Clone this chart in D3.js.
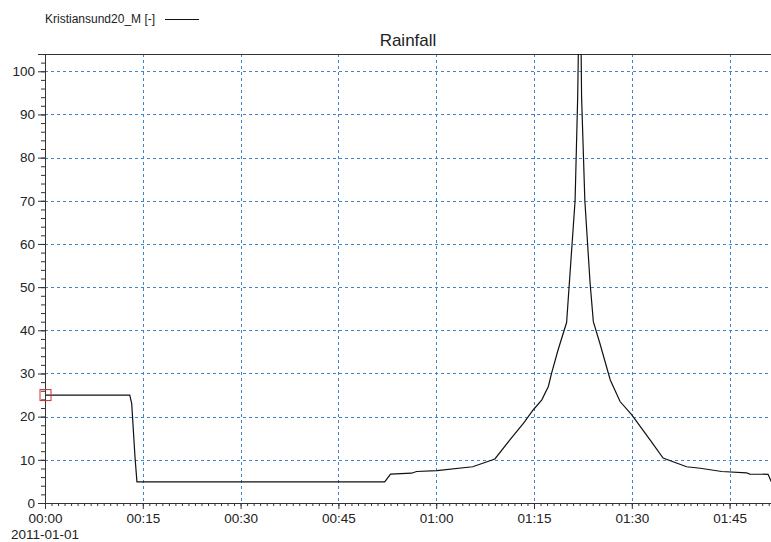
<!DOCTYPE html>
<html>
<head>
<meta charset="utf-8">
<script src="https://cdn.jsdelivr.net/npm/d3@7"></script>
<style>
  html, body { margin: 0; padding: 0; background: #fff; }
  svg { display: block; font-family: "Liberation Sans", Arial, sans-serif; }
</style>
</head>
<body>
<svg id="chart" width="771" height="542"></svg>
<script>
// ---- data (minutes since 2011-01-01 00:00, rainfall value) ----
const seriesName = "Kristiansund20_M [-]";
const chartTitle = "Rainfall";
const startDate = "2011-01-01";
const minutes = [0, 13.0, 13.3, 13.8, 14.1, 52.1, 53.0, 56.2, 57.0, 60.1, 65.6, 69.0, 71.3, 73.4, 74.9, 76.2, 77.2, 77.7, 78.7, 80.0, 81.3, 81.7, 82.05, 82.3, 82.8, 83.6, 84.1, 85.1, 86.7, 87.4, 88.2, 90.0, 92.8, 94.8, 98.4, 100.5, 103.8, 107.6, 108.1, 110.9, 111.4];
const values  = [25, 25, 23, 10.7, 4.9, 4.9, 6.7, 6.9, 7.3, 7.5, 8.4, 10.2, 14.6, 18.5, 21.6, 23.9, 27.0, 30.1, 35.5, 41.8, 70, 94, 130, 94, 70, 51, 42, 37, 28.5, 26.2, 23.5, 20.4, 14.6, 10.4, 8.4, 8.05, 7.3, 7.0, 6.7, 6.65, 4.9];
const yTickValues = [0, 10, 20, 30, 40, 50, 60, 70, 80, 90, 100];
const xEndMinutes = 111.35;
const yMax = 104;

// ---- layout ----
const svg = d3.select("#chart");
const pLeft = 45, pTop = 54, pRight = 771, pBottom = 503;
const t0 = new Date(Date.UTC(2011, 0, 1, 0, 0, 0));
const toDate = m => new Date(t0.getTime() + m * 60000);

const x = d3.scaleUtc().domain([t0, toDate(xEndMinutes)]).range([pLeft, pRight]);
const y = d3.scaleLinear().domain([0, yMax]).range([pBottom, pTop]);

const gridColor = "#3d86cc";
const axisColor = "#333";
const textColor = "#222";

// clip
svg.append("defs").append("clipPath").attr("id", "clip")
  .append("rect").attr("x", pLeft).attr("y", pTop).attr("width", pRight - pLeft).attr("height", pBottom - pTop);

// grid
const majorX = x.ticks(d3.utcMinute.every(15));
svg.append("g").selectAll("line").data(majorX.filter(d => d.getTime() !== t0.getTime()))
  .join("line")
  .attr("x1", d => Math.round(x(d)) + 0.5).attr("x2", d => Math.round(x(d)) + 0.5)
  .attr("y1", pTop).attr("y2", pBottom)
  .attr("stroke", gridColor).attr("stroke-width", 1).attr("stroke-dasharray", "3,3");
svg.append("g").selectAll("line").data(yTickValues.filter(v => v !== 0))
  .join("line")
  .attr("x1", pLeft).attr("x2", pRight)
  .attr("y1", d => Math.round(y(d)) + 0.5).attr("y2", d => Math.round(y(d)) + 0.5)
  .attr("stroke", gridColor).attr("stroke-width", 1).attr("stroke-dasharray", "3,3");

// top border
svg.append("line").attr("x1", pLeft).attr("x2", pRight).attr("y1", pTop + 0.5).attr("y2", pTop + 0.5)
  .attr("stroke", axisColor).attr("stroke-width", 1);

// line
const data = minutes.map((m, i) => ({ t: toDate(m), v: values[i] }));
svg.append("path").datum(data)
  .attr("clip-path", "url(#clip)")
  .attr("fill", "none").attr("stroke", "#111").attr("stroke-width", 1.2)
  .attr("d", d3.line().x(d => x(d.t)).y(d => y(d.v)));

// x axis
const xMinor = d3.axisBottom(x).ticks(d3.utcMinute.every(1)).tickSize(3).tickFormat("");
const gxm = svg.append("g").attr("transform", `translate(0,${pBottom})`).call(xMinor);
const xMajor = d3.axisBottom(x).ticks(d3.utcMinute.every(15)).tickSize(6).tickPadding(4)
  .tickFormat(d3.utcFormat("%H:%M"));
const gx = svg.append("g").attr("transform", `translate(0,${pBottom})`).call(xMajor);
[gxm, gx].forEach(g => {
  g.select(".domain").attr("stroke", axisColor);
  g.selectAll(".tick line").attr("stroke", axisColor);
});
gx.selectAll(".tick text").attr("fill", textColor).attr("font-size", 13.5)
  .attr("font-family", "Liberation Sans, Arial, sans-serif");
svg.append("text").attr("x", x(t0)).attr("y", 539).attr("text-anchor", "middle")
  .attr("fill", textColor).attr("font-size", 13.5).text(startDate);

// y axis
const yMinor = d3.axisLeft(y).tickValues(d3.range(0, yMax + 0.01, 2)).tickSize(4).tickFormat("");
const gym = svg.append("g").attr("transform", `translate(${pLeft},0)`).call(yMinor);
const yMajor = d3.axisLeft(y).tickValues(yTickValues).tickSize(7).tickPadding(3);
const gy = svg.append("g").attr("transform", `translate(${pLeft},0)`).call(yMajor);
[gym, gy].forEach(g => {
  g.select(".domain").attr("stroke", axisColor);
  g.selectAll(".tick line").attr("stroke", axisColor);
});
gy.selectAll(".tick text").attr("fill", textColor).attr("font-size", 13.5)
  .attr("font-family", "Liberation Sans, Arial, sans-serif");

// marker at first point
svg.append("rect")
  .attr("x", x(data[0].t) - 5).attr("y", y(data[0].v) - 5.5)
  .attr("width", 11).attr("height", 11)
  .attr("fill", "none").attr("stroke", "#d03030").attr("stroke-width", 1);

// title
svg.append("text").attr("x", (pLeft + pRight) / 2).attr("y", 46).attr("text-anchor", "middle")
  .attr("fill", textColor).attr("font-size", 17).text(chartTitle);

// legend
svg.append("text").attr("x", 45).attr("y", 23).attr("fill", textColor).attr("font-size", 12)
  .text(seriesName);
svg.append("line").attr("x1", 165).attr("x2", 199).attr("y1", 19.5).attr("y2", 19.5)
  .attr("stroke", "#111").attr("stroke-width", 1);
</script>
</body>
</html>
